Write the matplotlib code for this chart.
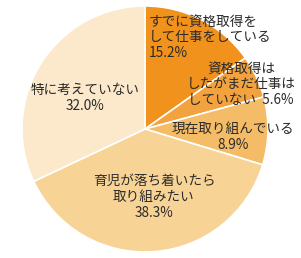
import matplotlib
matplotlib.use("Agg")
import matplotlib.pyplot as plt

plt.rcParams['font.family'] = ['Noto Sans CJK JP', 'DejaVu Sans']

labels = ["すでに資格取得を\nして仕事をしている\n15.2%",
          "資格取得は\nしたがまだ仕事は\nしていない  5.6%",
          "現在取り組んでいる\n8.9%",
          "育児が落ち着いたら\n取り組みたい\n38.3%",
          "特に考えていない\n32.0%"]
values = [15.2, 5.6, 8.9, 38.3, 32.0]
colors = ["#F0921C", "#F2A23E", "#F5BC68", "#F8D396", "#FCE8CA"]

fig = plt.figure(figsize=(3.01, 2.58), dpi=100)
ax = fig.add_axes([0, 0, 1, 1])

cx, cy, r = 145, 129, 123
wedges, _ = ax.pie(values, colors=colors, startangle=90, counterclock=False,
                   radius=r, center=(cx, cy),
                   wedgeprops=dict(edgecolor="white", linewidth=1.2))
# y axis is inverted below, so mirror the wedges to keep clockwise order
for w in wedges:
    t1, t2 = w.theta1, w.theta2
    w.set_theta1(-t2)
    w.set_theta2(-t1)
ax.set_aspect("equal")
ax.set_xlim(0, 301)
ax.set_ylim(258, 0)
ax.axis("off")

txt = dict(fontsize=9.8, color="#2a2a2a", linespacing=1.15)
ax.text(149, 37, labels[0], ha="left", va="center", **txt)
ax.text(241, 84, labels[1], ha="center", va="center", multialignment="center", **txt)
ax.text(233, 137, labels[2], ha="center", va="center", **txt)
ax.text(154, 197, labels[3], ha="center", va="center", **txt)
ax.text(85, 98, labels[4], ha="center", va="center", **txt)

fig.savefig("out.png", dpi=100)
